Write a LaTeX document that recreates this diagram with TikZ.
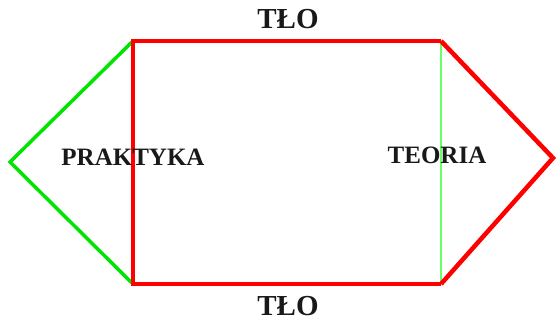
\documentclass[tikz,border=0pt]{standalone}
\usepackage{fontspec}
\setmainfont{Liberation Serif}
\usetikzlibrary{positioning}

\begin{document}
\begin{tikzpicture}[x=1pt,y=-1pt,
        redline/.style={draw=red, line width=4.5pt, line join=miter},
        greenline/.style={draw=green!90!black, line width=3.5pt},
        thingreen/.style={draw=green!60, line width=1.5pt},
        label/.style={font=\bfseries\fontsize{25}{28}\selectfont, text=black!90, inner sep=0pt}
      ]
  \useasboundingbox (0,0) rectangle (556,322);

  \coordinate (TL) at (133,41);
  \coordinate (TR) at (441,41);
  \coordinate (BL) at (133,284);
  \coordinate (BR) at (441,284);
  \coordinate (LA) at (10,162);
  \coordinate (RA) at (553,158);

  % left wedge
  \draw[greenline] (TL) -- (LA) -- (BL);
  % right vertical
  \draw[thingreen] (TR) -- (BR);
  % frame
  \draw[redline] (TR) -- (TL) -- (BL) -- (BR);
  \draw[redline] (TR) -- (RA) -- (BR);

  \node[label] (praktyka) at (133,157) {PRAKTYKA};
  \node[label] (teoria) at (437,155) {TEORIA};
  \node[label, font=\bfseries\fontsize{29}{32}\selectfont] (tlotop) at (288,19) {TŁO};
  \node[label, font=\bfseries\fontsize{29}{32}\selectfont] (tlobot) at (288,306) {TŁO};
\end{tikzpicture}
\end{document}
